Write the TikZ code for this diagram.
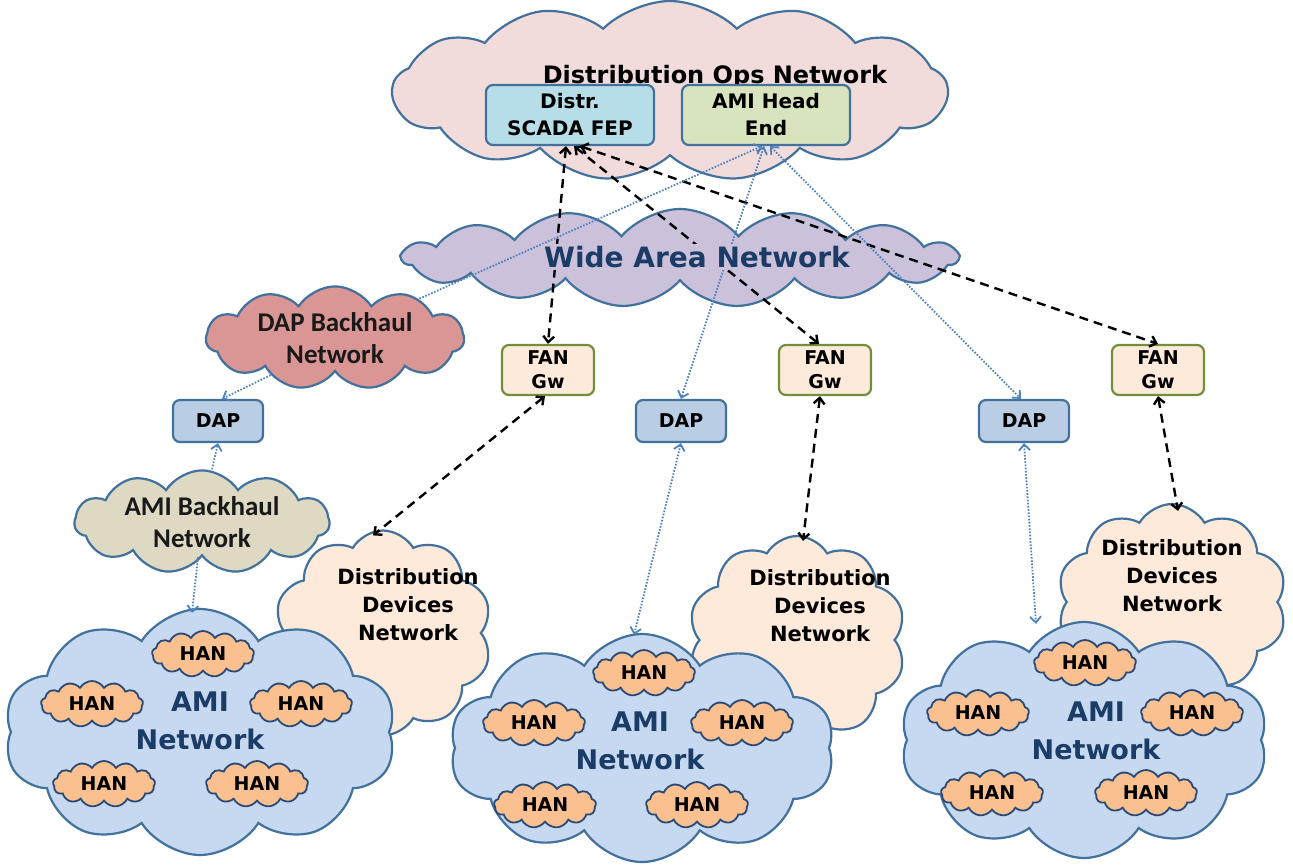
\documentclass[tikz,border=0pt]{standalone}
\usepackage{fontspec}
\setmainfont{DejaVu Sans}
\newfontfamily\carfont{Carlito}
\usetikzlibrary{shapes.symbols,arrows.meta}
\definecolor{cborder}{HTML}{41719C}
\definecolor{opsfill}{HTML}{F2DCDB}
\definecolor{scadafill}{HTML}{B7DEE8}
\definecolor{headfill}{HTML}{D7E4BD}
\definecolor{wanfill}{HTML}{CCC1DA}
\definecolor{dapbhfill}{HTML}{D99694}
\definecolor{amibhfill}{HTML}{DDD9C3}
\definecolor{dapfill}{HTML}{B9CDE5}
\definecolor{fanfill}{HTML}{FDEADA}
\definecolor{fanborder}{HTML}{6F8F3A}
\definecolor{ddfill}{HTML}{FDEADA}
\definecolor{amifill}{HTML}{C6D9F1}
\definecolor{hanfill}{HTML}{FAC090}
\definecolor{hanborder}{HTML}{2A4A75}
\definecolor{textblue}{HTML}{1B3C66}
\definecolor{dotc}{HTML}{4F81BD}
\begin{document}
\begin{tikzpicture}[x=1pt,y=-1pt,
  >={Straight Barb[length=6pt,width=11pt]},
  cl/.style={cloud, cloud ignores aspect, draw=cborder, line width=2.2pt, inner sep=0pt, align=center},
  hancl/.style={cloud, cloud ignores aspect, cloud puffs=13, cloud puff arc=120, draw=hanborder, line width=1.8pt, fill=hanfill,
     minimum width=102pt, minimum height=46pt, inner sep=0pt, font=\fontsize{19}{19}\selectfont\bfseries},
  bx/.style={rectangle, rounded corners=7pt, draw=cborder, line width=2.2pt, align=center, inner sep=0pt},
  bigbox/.style={bx, minimum width=168pt, minimum height=60pt, font=\fontsize{20}{27}\selectfont\bfseries},
  fanbox/.style={bx, draw=fanborder, fill=fanfill, minimum width=92pt, minimum height=50pt, font=\fontsize{19}{24}\selectfont\bfseries},
  dapbox/.style={bx, fill=dapfill, minimum width=90pt, minimum height=42pt, font=\fontsize{19}{19}\selectfont\bfseries},
  bhtext/.style={font=\carfont\fontsize{27}{32}\selectfont\bfseries, text=black!90},
  ddtext/.style={align=center, font=\fontsize{21}{28}\selectfont\bfseries},
  amitext/.style={align=center, text=textblue, font=\fontsize{27}{38}\selectfont\bfseries},
  dsh/.style={black, line width=2.4pt, dash pattern=on 9pt off 6pt},
  dtt/.style={dotc, line width=1.8pt, dash pattern=on 1.6pt off 1.6pt}
]
\useasboundingbox (0,0) rectangle (1293,867);
% top clouds
\node[cl, fill=opsfill, cloud puffs=13, cloud puff arc=90, minimum width=555pt, minimum height=180pt] (ops) at (670,91) {};
\node[anchor=base, font=\fontsize{24}{24}\selectfont\bfseries] (opst) at (715,84) {Distribution Ops Network};
\node[bigbox, fill=scadafill] (scada) at (570,115) {Distr.\\SCADA FEP};
\node[bigbox, fill=headfill] (head) at (766,115) {AMI Head\\End};
\node[cl, fill=wanfill, cloud puffs=15, cloud puff arc=100, minimum width=555pt, minimum height=98pt] (wan) at (680,258) {};
% backhaul clouds
\node[cl, fill=dapbhfill, cloud puffs=11, cloud puff arc=115, minimum width=258pt, minimum height=88pt, bhtext] (dapbh) at (335,338) {DAP Backhaul\\Network};
\node[cl, fill=amibhfill, cloud puffs=11, cloud puff arc=115, minimum width=255pt, minimum height=88pt, bhtext] (amibh) at (202,522) {AMI Backhaul\\Network};
% boxes
\node[fanbox] (fan1) at (548,370) {FAN\\Gw};
\node[fanbox] (fan2) at (825,370) {FAN\\Gw};
\node[fanbox] (fan3) at (1158,370) {FAN\\Gw};
\node[dapbox] (dap1) at (218,421) {DAP};
\node[dapbox] (dap2) at (681,421) {DAP};
\node[dapbox] (dap3) at (1024,421) {DAP};
% distribution devices clouds
\node[cl, fill=ddfill, cloud puffs=10, cloud puff arc=120, minimum width=218pt, minimum height=205pt] (dd1) at (383,633) {};
\node[cl, fill=ddfill, cloud puffs=10, cloud puff arc=120, minimum width=218pt, minimum height=208pt] (dd2) at (797,640) {};
\node[cl, fill=ddfill, cloud puffs=10, cloud puff arc=120, minimum width=230pt, minimum height=196pt] (dd3) at (1172,602) {};
\node[ddtext] (dd1t) at (408,605) {Distribution\\Devices\\Network};
\node[ddtext] (dd2t) at (820,606) {Distribution\\Devices\\Network};
\node[ddtext] (dd3t) at (1172,576) {Distribution\\Devices\\Network};
% AMI clouds
\node[cl, fill=amifill, cloud puffs=10, cloud puff arc=115, minimum width=392pt, minimum height=246pt] (ami1) at (200,732) {};
\node[cl, fill=amifill, cloud puffs=10, cloud puff arc=115, minimum width=385pt, minimum height=228pt] (ami2) at (642,748) {};
\node[cl, fill=amifill, cloud puffs=10, cloud puff arc=115, minimum width=368pt, minimum height=236pt] (ami3) at (1084,740) {};
\node[amitext] (ami1t) at (200,721) {AMI\\Network};
\node[amitext] (ami2t) at (640,741) {AMI\\Network};
\node[amitext] (ami3t) at (1096,731) {AMI\\Network};
% HANs
\node[hancl] (h11) at (203,654) {HAN};
\node[hancl] (h12) at (92,704) {HAN};
\node[hancl] (h13) at (301,704) {HAN};
\node[hancl] (h14) at (104,784) {HAN};
\node[hancl] (h15) at (257,784) {HAN};
\node[hancl] (h21) at (644,673) {HAN};
\node[hancl] (h22) at (534,723) {HAN};
\node[hancl] (h23) at (742,723) {HAN};
\node[hancl] (h24) at (545,805) {HAN};
\node[hancl] (h25) at (697,805) {HAN};
\node[hancl] (h31) at (1085,663) {HAN};
\node[hancl] (h32) at (978,713) {HAN};
\node[hancl] (h33) at (1192,713) {HAN};
\node[hancl] (h34) at (992,793) {HAN};
\node[hancl] (h35) at (1146,793) {HAN};
% dashed connectors
\draw[dsh, <->] ([xshift=-4pt]scada.south) -- (fan1.north);
\draw[dsh, <->] ([xshift=4pt]scada.south) -- ([xshift=-6pt]fan2.north);
\draw[dsh, <->] ([xshift=10pt]scada.south) -- (fan3.north);
\draw[dsh, <->] ([xshift=-3pt]fan1.south) -- ([xshift=-10pt,yshift=-6pt]dd1.north);
\draw[dsh, <->] ([xshift=-5pt]fan2.south) -- ([xshift=6pt,yshift=-6pt]dd2.north);
\draw[dsh, <->] (fan3.south) -- ([xshift=6pt,yshift=-8pt]dd3.north);
% dotted connectors
\draw[dtt, <-] ([xshift=-4pt]head.south) -- (dapbh.25);
\draw[dtt, <->] ([xshift=-2pt]head.south) -- (dap2.north);
\draw[dtt, <->] ([xshift=4pt]head.south) -- ([xshift=-3pt]dap3.north);
\draw[dtt, ->] (dapbh.-150) -- ([xshift=4pt]dap1.north);
\draw[dtt, ->] ([xshift=10pt]amibh.north) -- (dap1.south);
\draw[dtt, ->] ([xshift=-4pt]amibh.south) -- ([xshift=-8pt,yshift=-5pt]ami1.north);
\draw[dtt, <->] (dap2.south) -- ([xshift=-8pt,yshift=-2pt]ami2.north);
\draw[dtt, <->] (dap3.south) -- ([xshift=-48pt,yshift=-3pt]ami3.north);
% WAN label over the lines
\node[fill=wanfill, inner sep=2pt, text=textblue, font=\fontsize{28}{28}\selectfont\bfseries] (want) at (697,257) {Wide Area Network};
\end{tikzpicture}
\end{document}
